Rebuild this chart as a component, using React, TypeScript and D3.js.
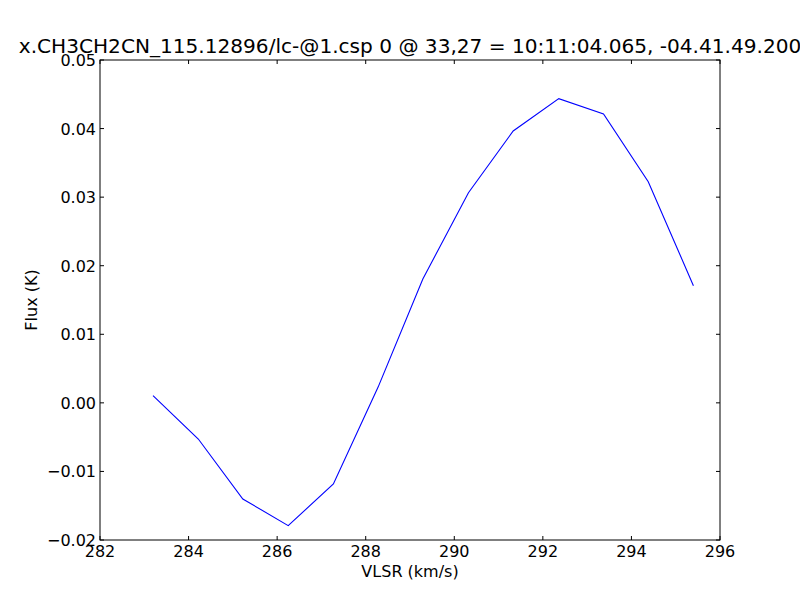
import React from "react";
import * as d3 from "d3";

const velocities = [283.197, 284.22, 285.225, 286.25, 287.27, 288.28, 289.29, 290.32, 291.33, 292.36, 293.37, 294.38, 295.40];
const fluxes = [0.00104, -0.00527, -0.01402, -0.0179, -0.01183, 0.0023, 0.01806, 0.03065, 0.03965, 0.04436, 0.04213, 0.03225, 0.01709];
const xTicks = [282, 284, 286, 288, 290, 292, 294, 296];
const yTicks = [-0.02, -0.01, 0.0, 0.01, 0.02, 0.03, 0.04, 0.05];
const title = "x.CH3CH2CN_115.12896/lc-@1.csp 0 @ 33,27 = 10:11:04.065, -04.41.49.200";

export default function App() {
  const W = 800, H = 600;
  const L = 100, R = 720, T = 60, B = 540;
  const x = d3.scaleLinear().domain([282, 296]).range([L, R]);
  const y = d3.scaleLinear().domain([-0.02, 0.05]).range([B, T]);
  const line = d3.line<number>().x((_, i) => x(velocities[i])).y((d) => y(d));
  const fmt = (v: number) => d3.format(".2f")(v).replace("-", "\u2212");
  const font = "DejaVu Sans, sans-serif";
  const tl = 4;
  return (
    <div style={{ position: "fixed", left: 0, top: 0 }}>
      <svg width={W} height={H} style={{ display: "block", background: "#fff" }}>
        <rect x={0} y={0} width={W} height={H} fill="#fff" />
        <path d={line(fluxes) || ""} fill="none" stroke="#0000ff" strokeWidth={1.1} />
        {xTicks.map((t) => (
          <g key={"x" + t}>
            <line x1={x(t)} x2={x(t)} y1={B} y2={B - tl} stroke="#000" />
            <line x1={x(t)} x2={x(t)} y1={T} y2={T + tl} stroke="#000" />
            <text x={x(t)} y={B + 17} textAnchor="middle" fontFamily={font} fontSize={16} fill="#000">{t}</text>
          </g>
        ))}
        {yTicks.map((t) => (
          <g key={"y" + t}>
            <line x1={L} x2={L + tl} y1={y(t)} y2={y(t)} stroke="#000" />
            <line x1={R} x2={R - tl} y1={y(t)} y2={y(t)} stroke="#000" />
            <text x={L - 4} y={y(t) + 6} textAnchor="end" fontFamily={font} fontSize={16} fill="#000">{fmt(t)}</text>
          </g>
        ))}
        <rect x={L} y={T} width={R - L} height={B - T} fill="none" stroke="#000" strokeWidth={1} />
        <text x={410} y={577} textAnchor="middle" fontFamily={font} fontSize={16} fill="#000">VLSR (km/s)</text>
        <text transform={`translate(37,300) rotate(-90)`} textAnchor="middle" fontFamily={font} fontSize={16} fill="#000">Flux (K)</text>
        <text x={410} y={53} textAnchor="middle" fontFamily={font} fontSize={20.1} fill="#000">{title}</text>
      </svg>
    </div>
  );
}
